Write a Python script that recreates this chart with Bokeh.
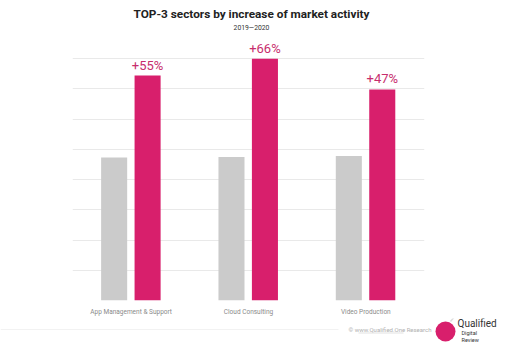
from bokeh.plotting import figure
from bokeh.models import ColumnDataSource, FixedTicker
from bokeh.layouts import column
from bokeh.transform import dodge
from bokeh.core.properties import value
from bokeh.embed import file_html
from bokeh.resources import INLINE

categories = ["App Management & Support", "Cloud Consulting", "Video Production"]
prev_values = [4.73, 4.75, 4.78]
curr_values = [7.44, 8.0, 6.98]
growth_labels = ["+55%", "+66%", "+47%"]
grid_ticks = [0, 1, 2, 3, 4, 5, 6, 7, 8]

title_text = "TOP-3 sectors by increase of market activity"
subtitle_text = "2019\u20142020"
source_text = "\u00a9 www.Qualified.One Research"

W = 510
PINK = "#d81f6c"
GRAY = "#cbcbcb"
FONT = value("Roboto")


def blank(height, y0, y1):
    f = figure(width=W, height=height, x_range=(0, W), y_range=(y1, y0),
               output_backend="svg", toolbar_location=None,
               min_border=0, min_border_left=0, min_border_right=0,
               min_border_top=0, min_border_bottom=0)
    f.frame_align = False
    f.axis.visible = False
    f.grid.visible = False
    f.outline_line_color = None
    f.background_fill_color = "white"
    f.border_fill_color = "white"
    return f


# header (page y 0..40)
head = blank(40, 0, 40)
head.text(x=[251], y=[13], text=[title_text], text_font=FONT, text_font_size="11.8px",
          text_font_style="bold", text_color="#222222", text_align="center",
          text_baseline="middle")
head.text(x=[251], y=[27], text=[subtitle_text], text_font=FONT, text_font_size="6.8px",
          text_color="#333333", text_align="center", text_baseline="middle")

# main chart (page y 40..318)
src = ColumnDataSource(dict(cat=categories, prev=prev_values, curr=curr_values, lab=growth_labels))
p = figure(x_range=categories, y_range=(0, 8.6), width=W, height=278,
           output_backend="svg", toolbar_location=None,
           min_border_left=72, min_border_right=86, min_border_top=0, min_border_bottom=18)
p.frame_align = False
p.outline_line_color = None
p.background_fill_color = "white"
p.border_fill_color = "white"

p.vbar(x=dodge("cat", -0.145, range=p.x_range), top="prev", width=0.222, source=src,
       fill_color=GRAY, line_color=None)
p.vbar(x=dodge("cat", 0.14, range=p.x_range), top="curr", width=0.222, source=src,
       fill_color=PINK, line_color=None)
p.text(x=dodge("cat", 0.14, range=p.x_range), y="curr", text="lab", source=src,
       text_align="center", text_baseline="bottom", y_offset=-3,
       text_font=FONT, text_font_size="13px", text_color="#c72d6d")

p.yaxis.visible = False
p.yaxis.ticker = FixedTicker(ticks=grid_ticks)
p.ygrid.ticker = FixedTicker(ticks=grid_ticks)
p.ygrid.grid_line_color = "#e9e9e9"
p.xgrid.grid_line_color = None

xa = p.xaxis[0]
xa.axis_line_color = None
xa.major_tick_line_color = None
xa.minor_tick_line_color = None
xa.major_tick_out = 0
xa.major_tick_in = 0
xa.minor_tick_out = 0
xa.major_label_text_font = "Roboto"
xa.major_label_text_font_size = "6.5px"
xa.major_label_text_color = "#8a8a8a"
xa.major_label_standoff = 7

# footer (page y 318..352)
foot = blank(34, 318, 352)
foot.segment(x0=[0], y0=[329], x1=[338], y1=[329], line_color="#f2f2f2", line_width=1)
foot.text(x=[348], y=[329], text=[source_text], text_font=FONT, text_font_size="6px",
          text_color="#b0b0b0", text_align="left", text_baseline="middle")
foot.segment(x0=[358], y0=[332.5], x1=[403], y1=[332.5], line_color="#c0c0c0", line_width=0.5)
foot.segment(x0=[450], y0=[321], x1=[455], y1=[315], line_color="#dddddd", line_width=1.5)
foot.circle(x=[445], y=[331], radius=10, fill_color=PINK, line_color=None)
foot.text(x=[457], y=[323], text=["Qualified"], text_font=FONT, text_font_size="10px",
          text_color="#333333", text_align="left", text_baseline="middle")
foot.text(x=[461], y=[332], text=["Digital"], text_font=FONT, text_font_size="5.5px",
          text_color="#333333", text_align="left", text_baseline="middle")
foot.text(x=[461], y=[339], text=["Review"], text_font=FONT, text_font_size="5.5px",
          text_color="#333333", text_align="left", text_baseline="middle")

layout = column(head, p, foot, spacing=0)
open("out.html", "w").write(file_html(layout, INLINE))
